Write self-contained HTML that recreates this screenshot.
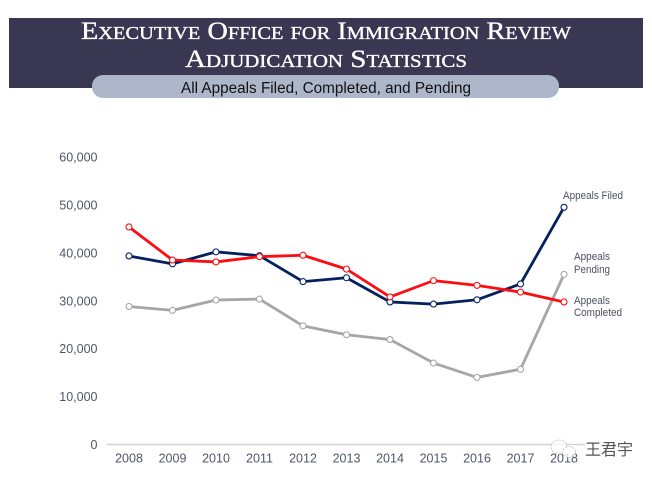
<!DOCTYPE html>
<html>
<head>
<meta charset="utf-8">
<style>
html,body{margin:0;padding:0;background:#fff;width:652px;height:478px;overflow:hidden}
svg{display:block}
</style>
</head>
<body>
<svg id="chart" xmlns="http://www.w3.org/2000/svg" width="652" height="478" viewBox="0 0 652 478">
  <rect x="9" y="18" width="634" height="70" fill="#393752"/>
  <text x="326" y="39" text-anchor="middle" font-family="'Liberation Serif',serif" font-size="25" fill="#fff" stroke="#fff" stroke-width="0.35" textLength="490" lengthAdjust="spacingAndGlyphs" style="font-variant:small-caps">Executive Office for Immigration Review</text>
  <text x="326" y="67" text-anchor="middle" font-family="'Liberation Serif',serif" font-size="25" fill="#fff" stroke="#fff" stroke-width="0.35" textLength="282" lengthAdjust="spacingAndGlyphs" style="font-variant:small-caps">Adjudication Statistics</text>
  <rect x="92" y="75" width="467" height="23" rx="11" fill="#adb7c9"/>
  <text x="326" y="93" text-anchor="middle" font-family="'Liberation Sans',sans-serif" font-size="15.5" fill="#111" textLength="290" lengthAdjust="spacingAndGlyphs">All Appeals Filed, Completed, and Pending</text>
  <g id="axes"></g>
  <g id="series"></g>
  <text x="563" y="199" font-family="'Liberation Sans',sans-serif" font-size="11" fill="#4a5060" textLength="60" lengthAdjust="spacingAndGlyphs">Appeals Filed</text>
  <text x="574" y="260" font-family="'Liberation Sans',sans-serif" font-size="11" fill="#4a5060" textLength="36" lengthAdjust="spacingAndGlyphs">Appeals</text>
  <text x="574" y="273" font-family="'Liberation Sans',sans-serif" font-size="11" fill="#4a5060" textLength="36" lengthAdjust="spacingAndGlyphs">Pending</text>
  <text x="574" y="304" font-family="'Liberation Sans',sans-serif" font-size="11" fill="#4a5060" textLength="36" lengthAdjust="spacingAndGlyphs">Appeals</text>
  <text x="574" y="316" font-family="'Liberation Sans',sans-serif" font-size="11" fill="#4a5060" textLength="48" lengthAdjust="spacingAndGlyphs">Completed</text>
  <g>
    <ellipse cx="559" cy="447" rx="8" ry="7" fill="#fff" fill-opacity="0.8" stroke="#bbb" stroke-width="0.8" stroke-dasharray="2 1.5"/>
    <ellipse cx="569" cy="452" rx="6.5" ry="5.5" fill="#fff" fill-opacity="0.8" stroke="#bbb" stroke-width="0.8" stroke-dasharray="2 1.5"/>
    <text x="585" y="455" font-family="'Noto Sans CJK SC','WenQuanYi Zen Hei',sans-serif" font-size="16" fill="#555">王君宇</text>
  </g>
</svg>
<script>
const years = ['2008','2009','2010','2011','2012','2013','2014','2015','2016','2017','2018'];
const yTicks = [0,10000,20000,30000,40000,50000,60000];
const filedValues = [39350,37700,40200,39400,34000,34800,29750,29300,30200,33500,49500];
const completedValues = [45400,38500,38100,39200,39500,36600,30800,34200,33200,31800,29750];
const pendingValues = [28800,28000,30150,30350,24750,22900,21900,17000,14000,15700,35500];

const NS = 'http://www.w3.org/2000/svg';
const xScale = i => 129 + i * 43.5;
const yScale = v => 444.5 - v * 287.5 / 60000;
const axes = document.getElementById('axes');
const seriesGroup = document.getElementById('series');

function make(tag, attrs, parent){
  const el = document.createElementNS(NS, tag);
  for (const k in attrs) el.setAttribute(k, attrs[k]);
  parent.appendChild(el);
  return el;
}

const baseline = make('line', {x1:107, x2:585, y1:yScale(0), y2:yScale(0), stroke:'#d4d4d4', 'stroke-width':1.5}, axes);



yTicks.forEach(t => {
  const el = make('text', {x:97.5, y:yScale(t)+4.5, 'text-anchor':'end', 'font-family':"'Liberation Sans',sans-serif", 'font-size':12.5, fill:'#50566a'}, axes);
  
  
  el.textContent = t.toLocaleString('en-US');
});

years.forEach((y, i) => {
  const el = make('text', {x:xScale(i), y:462.5, 'text-anchor':'middle', 'font-family':"'Liberation Sans',sans-serif", 'font-size':12.5, fill:'#50566a'}, axes);
  
  
  el.textContent = y;
});

function drawSeries(values, color, name){
  const pts = values.map((v, i) => xScale(i) + ',' + yScale(v)).join(' ');
  const line = make('polyline', {points:pts, fill:'none', stroke:color, 'stroke-width':2.8, 'stroke-linejoin':'round'}, seriesGroup);
  
  
  values.forEach((v, i) => {
    const c = make('circle', {cx:xScale(i), cy:yScale(v), r:3, fill:'#fff', stroke:color, 'stroke-width':1.1}, seriesGroup);
    
    
  });
}

drawSeries(pendingValues, '#a6a6a6', 'appeals-pending');
drawSeries(filedValues, '#04215f', 'appeals-filed');
drawSeries(completedValues, '#fb0d12', 'appeals-completed');
</script>
</body>
</html>
